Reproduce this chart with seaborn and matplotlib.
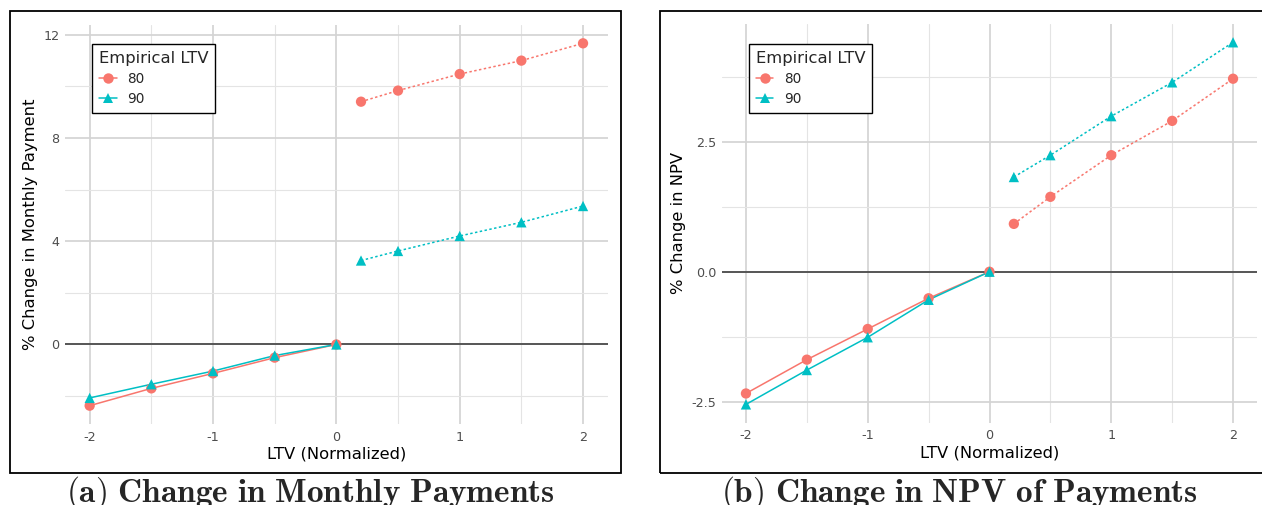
import matplotlib
matplotlib.use("Agg")
import matplotlib.pyplot as plt
import pandas as pd
import seaborn as sns
from matplotlib.lines import Line2D
from matplotlib.patches import Rectangle
from matplotlib.ticker import FixedLocator, MultipleLocator, FormatStrFormatter

# LTV grid (normalized): solid segment up to 0, dotted segment from 0.2 on
ltv_below = [-2.0, -1.5, -1.0, -0.5, 0.0]
ltv_above = [0.2, 0.5, 1.0, 1.5, 2.0]

# % change in monthly payment
payment_80_below = [-2.37, -1.70, -1.12, -0.51, 0.0]
payment_90_below = [-2.07, -1.54, -1.03, -0.43, 0.0]
payment_80_above = [9.40, 9.83, 10.47, 10.99, 11.66]
payment_90_above = [3.25, 3.62, 4.20, 4.73, 5.36]

# % change in NPV of payments
npv_80_below = [-2.34, -1.69, -1.10, -0.51, 0.0]
npv_90_below = [-2.55, -1.89, -1.26, -0.54, 0.0]
npv_80_above = [0.92, 1.44, 2.24, 2.90, 3.71]
npv_90_above = [1.82, 2.24, 2.99, 3.64, 4.41]

groups = ["80", "90"]
palette = {"80": "#F8766D", "90": "#00BFC4"}
markers = {"80": "o", "90": "^"}

x_major = [-2, -1, 0, 1, 2]
x_minor = [-1.5, -0.5, 0.5, 1.5]
x_labels = ["-2", "-1", "0", "1", "2"]

sns.set_theme(style="white")
plt.rcParams["font.family"] = ["DejaVu Sans"]
plt.rcParams["axes.unicode_minus"] = False
plt.rcParams["mathtext.fontset"] = "cm"

W, H = 1262, 505
fig = plt.figure(figsize=(W / 100, H / 100), dpi=100)


def px_axes(left, right, top, bottom):
    return fig.add_axes([left / W, (H - bottom) / H, (right - left) / W, (bottom - top) / H])


def build(b80, b90, a80, a90):
    rows = []
    for grp, below, above in (("80", b80, a80), ("90", b90, a90)):
        rows += [(x, y, grp, "below") for x, y in zip(ltv_below, below)]
        rows += [(x, y, grp, "above") for x, y in zip(ltv_above, above)]
    return pd.DataFrame(rows, columns=["ltv", "change", "Empirical LTV", "segment"])


def draw(ax, df, ylabel, ymajor, yminor, yfmt, legend_anchor):
    ax.axhline(0, color="#333333", lw=1.1, zorder=1.5)
    sns.lineplot(data=df, x="ltv", y="change", hue="Empirical LTV", style="segment",
                 hue_order=groups, palette=palette, style_order=["below", "above"],
                 dashes={"below": "", "above": (1.6, 1.6)}, linewidth=1.1,
                 estimator=None, legend=False, ax=ax, zorder=2)
    sns.scatterplot(data=df, x="ltv", y="change", hue="Empirical LTV", style="Empirical LTV",
                    hue_order=groups, palette=palette, markers=markers, s=55,
                    linewidth=0, legend=False, ax=ax, zorder=3)
    ax.margins(x=0.05, y=0.05)
    ax.xaxis.set_major_locator(FixedLocator(x_major))
    ax.xaxis.set_minor_locator(FixedLocator(x_minor))
    ax.set_xticklabels(x_labels)
    ax.yaxis.set_major_locator(MultipleLocator(ymajor))
    ax.yaxis.set_minor_locator(MultipleLocator(yminor))
    ax.yaxis.set_major_formatter(FormatStrFormatter(yfmt))
    ax.grid(which="major", color="#d4d4d4", lw=1.25, zorder=0)
    ax.grid(which="minor", color="#e4e4e4", lw=0.8, zorder=0)
    ax.set_axisbelow(True)
    for s in ax.spines.values():
        s.set_visible(False)
    ax.tick_params(which="both", length=0, labelsize=9.2, labelcolor="#4d4d4d")
    ax.tick_params(axis="x", pad=5)
    ax.tick_params(axis="y", pad=4)
    ax.set_xlabel("LTV (Normalized)", fontsize=11.8, color="black", labelpad=2)
    ax.set_ylabel(ylabel, fontsize=11.8, color="black", labelpad=4)

    handles = [Line2D([], [], color=palette[g], marker=markers[g], markersize=7.5,
                      lw=1.1, markeredgewidth=0) for g in groups]
    leg = ax.legend(handles, groups, title="Empirical LTV", loc="upper left",
                    bbox_to_anchor=legend_anchor, borderaxespad=0, fontsize=9.8,
                    title_fontsize=11.8, frameon=True, fancybox=False, framealpha=1,
                    edgecolor="black", handlelength=1.3, handletextpad=0.8,
                    labelspacing=0.45, borderpad=0.5)
    leg._legend_box.align = "left"
    leg.get_frame().set_linewidth(1.0)


ax1 = px_axes(65, 607.7, 25.2, 423.8)
draw(ax1, build(payment_80_below, payment_90_below, payment_80_above, payment_90_above),
     "% Change in Monthly Payment", 4, 2, "%d", (0.05, 0.953))

ax2 = px_axes(721.6, 1257.4, 24.2, 422.5)
draw(ax2, build(npv_80_below, npv_90_below, npv_80_above, npv_90_above),
     "% Change in NPV", 2.5, 1.25, "%.1f", (0.051, 0.950))

# boxes round each sub-figure
for x0, x1 in ((10, 621), (660, 1270)):
    fig.add_artist(Rectangle((x0 / W, (H - 473) / H), (x1 - x0) / W, 462 / H,
                             transform=fig.transFigure, fill=False, ec="black", lw=1.3))

fig.text(310.5 / W, 3 / H, r"$\mathbf{(a)\ Change\ in\ Monthly\ Payments}$",
         ha="center", va="baseline", fontsize=24)
fig.text(959 / W, 3 / H, r"$\mathbf{(b)\ Change\ in\ NPV\ of\ Payments}$",
         ha="center", va="baseline", fontsize=24)

fig.savefig("out.png", dpi=100)
